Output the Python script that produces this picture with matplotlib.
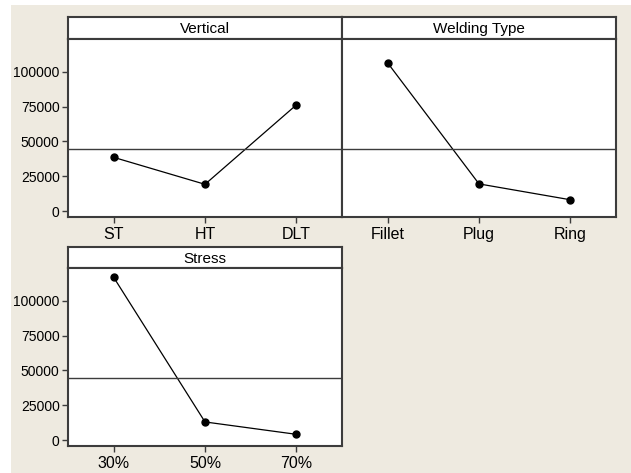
import matplotlib.pyplot as plt
from matplotlib.patches import Rectangle

# main effects of each factor on the response
vertical_levels = ['ST', 'HT', 'DLT']
vertical_means = [38600, 19200, 76300]

welding_levels = ['Fillet', 'Plug', 'Ring']
welding_means = [106500, 19500, 8100]

stress_levels = ['30%', '50%', '70%']
stress_means = [117000, 13000, 4100]

grand_mean = 44700
yticks = [0, 25000, 50000, 75000, 100000]

W, H = 631, 473
bg = '#eeeae0'
frame = '#3c3c3c'
plt.rcParams['font.family'] = ['Liberation Sans', 'DejaVu Sans']
plt.rcParams['font.size'] = 10

fig = plt.figure(figsize=(W / 100, H / 100), dpi=100, facecolor='white')
fig.patches.append(Rectangle((11 / W, 0), 1 - 11 / W, 1 - 5 / H,
                             transform=fig.transFigure, facecolor=bg,
                             edgecolor='none', zorder=-10))


def box(x0, y0, x1, y1):
    # pixel box (top-left origin) -> figure fraction rect
    return [x0 / W, 1 - y1 / H, (x1 - x0) / W, (y1 - y0) / H]


def panel(x0, x1, ytop, ysep, ybot, title, levels, means, show_y):
    strip = fig.add_axes(box(x0, ytop, x1, ysep))
    strip.set_facecolor('white')
    strip.set_xticks([])
    strip.set_yticks([])
    strip.text(0.5, 0.45, title, ha='center', va='center',
               transform=strip.transAxes, fontsize=11)
    ax = fig.add_axes(box(x0, ysep, x1, ybot))
    ax.set_facecolor('white')
    for a in (strip, ax):
        for s in a.spines.values():
            s.set_color(frame)
            s.set_linewidth(1.5)
    xs = range(1, len(levels) + 1)
    ax.plot(xs, means, color='black', lw=0.9, marker='o', ms=5)
    ax.axhline(grand_mean, color=frame, lw=1.0)
    ax.set_xlim(0.5, 3.5)
    ax.set_ylim(-4300, 123700)
    ax.set_xticks(list(xs))
    ax.set_xticklabels(levels, fontsize=11.5)
    ax.set_yticks(yticks)
    if show_y:
        ax.set_yticklabels([str(v) for v in yticks], fontsize=10)
    else:
        ax.tick_params(axis='y', left=False, labelleft=False)
    ax.tick_params(length=4.5, width=1, color=frame, pad=1.5)
    ax.tick_params(axis='x', pad=3)
    return ax


panel(68, 342, 17, 39, 217, 'Vertical', vertical_levels, vertical_means, True)
panel(342, 616, 17, 39, 217, 'Welding Type', welding_levels, welding_means, False)
panel(68, 342, 247, 268, 446, 'Stress', stress_levels, stress_means, True)

fig.savefig('out.png', dpi=100, facecolor=fig.get_facecolor())
